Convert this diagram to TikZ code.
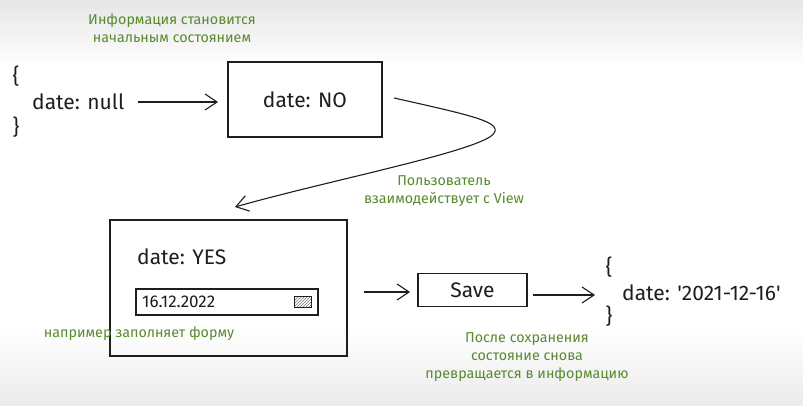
\documentclass[tikz,border=0pt]{standalone}
\usepackage{fontspec}
\setmainfont{Fira Sans}
\usetikzlibrary{arrows.meta,patterns}
\definecolor{ink}{RGB}{30,30,30}
\definecolor{note}{RGB}{88,138,46}
\tikzset{
  every node/.style={text=ink},
  main/.style={font=\fontsize{21}{23}\selectfont, inner sep=0pt},
  green/.style={text=note, font=\fontsize{14.3}{16}\selectfont, inner sep=0pt, align=center},
  boxline/.style={draw=ink, line width=1.1pt},
  conn/.style={draw=ink, line width=1.1pt, -{Straight Barb[length=12pt,width=16pt,line width=1.1pt]}},
}
\begin{document}
\begin{tikzpicture}[x=1pt,y=-1pt]
\useasboundingbox (0,0) rectangle (803,406);
\fill[top color=black!10, bottom color=white, draw=none] (0,0) rectangle (803,66);
\fill[white] (0,66) rectangle (803,328);
\fill[top color=white, bottom color=black!8, draw=none] (0,328) rectangle (803,406);

% top note
\node[green] (note1) at (172,28.5) {Информация становится\\[2pt]начальным состоянием};

% left object
\node[main] (lb1) at (16,76) {\{};
\node[main, anchor=west] (nulltxt) at (32,102) {date: null};
\node[main] (rb1) at (16,127) {\}};

% box 1
\node[boxline, minimum width=154pt, minimum height=75pt, inner sep=0pt] (box1) at (305,99.5) {};
\node[main] (notxt) at (box1.center) {date: NO};
\coordinate (a1s) at (138,102);
\coordinate (a1e) at (218,102);
\draw[conn] (a1s) -- (a1e);

% curved arrow
\coordinate (c0) at (394,98);
\coordinate (c1) at (494,133);
\coordinate (c2) at (235,207);
\draw[conn] (c0) .. controls (470,115) and (502,122) .. (c1) .. controls (485,150) and (330,180) .. (c2);

\node[green] (note2) at (444,191.5) {Пользователь\\[2pt]взаимодействует с View};

% box 2 (form)
\node[boxline, minimum width=237pt, minimum height=136pt, inner sep=0pt] (box2) at (228.5,288) {};
\node[main, anchor=west] (yestxt) at (137,257) {date: YES};
\node[boxline, minimum width=182pt, minimum height=26pt, inner sep=0pt] (field) at (227,302) {};
\node[main, font=\fontsize{17}{19}\selectfont, anchor=west] (datetxt) at (142,302) {16.12.2022};
\node[draw=ink, line width=0.9pt, pattern=north east lines, pattern color=black!55, minimum width=17pt, minimum height=11pt, inner sep=0pt] (cal) at (302.5,301.5) {};

\node[green] (note3) at (139,334) {например заполняет форму};

% save
\coordinate (a2s) at (364,292);
\coordinate (a2e) at (410,292);
\draw[conn] (a2s) -- (a2e);
\node[boxline, minimum width=109pt, minimum height=33pt, inner sep=0pt] (save) at (472.5,290) {};
\node[main, font=\fontsize{21}{23}\selectfont] (savetxt) at (save.center) {Save};
\coordinate (a3s) at (533,295);
\coordinate (a3e) at (595,295);
\draw[conn] (a3s) -- (a3e);

% right object
\node[main] (lb2) at (609,267) {\{};
\node[main, anchor=west] (dtxt) at (622,293) {date: \textquotesingle 2021-12-16\textquotesingle};
\node[main] (rb2) at (609,316) {\}};

\node[green] (note4) at (527,357) {После сохранения\\[2pt]состояние снова\\[2pt]превращается в информацию};
\end{tikzpicture}
\end{document}
